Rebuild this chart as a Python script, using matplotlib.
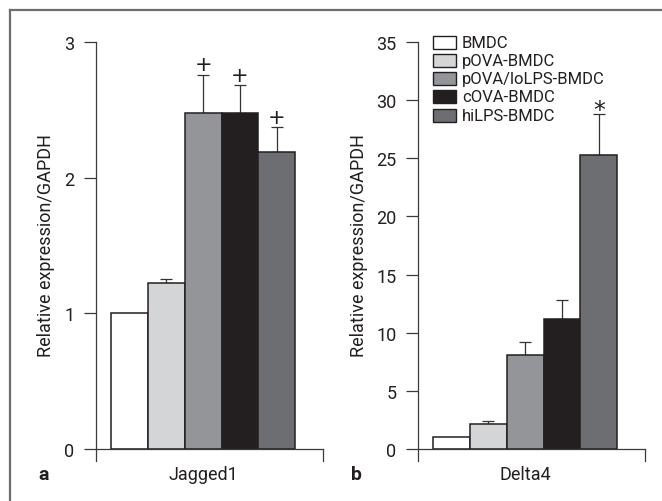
import numpy as np
import matplotlib
matplotlib.use('Agg')
import matplotlib.pyplot as plt
from matplotlib.patches import Rectangle
from matplotlib.lines import Line2D

plt.rcParams['font.family'] = ['Roboto', 'DejaVu Sans']

# data
groups = ['BMDC', 'pOVA-BMDC', 'pOVA/loLPS-BMDC', 'cOVA-BMDC', 'hiLPS-BMDC']
colors = ['#ffffff', '#d4d5d7', '#939598', '#231f20', '#6d6e71']

jagged_vals = [1.00, 1.22, 2.48, 2.48, 2.19]
jagged_err = [0.00, 0.03, 0.28, 0.20, 0.18]
jagged_marks = ['', '', '+', '+', '+']

delta_vals = [1.0, 2.18, 8.05, 11.18, 25.25]
delta_err = [0.0, 0.20, 1.15, 1.62, 3.55]
delta_marks = ['', '', '', '', '*']

W, H = 662, 502
fig = plt.figure(figsize=(W / 100, H / 100), dpi=100)

def px(x, y):
    # pixel (from top-left) -> figure fraction
    return x / W, 1 - y / H

edge = '#231f20'
axcol = '#3a3a3a'
txt = '#231f20'
fs = 13

def panel(left, right, vals, errs, marks, ymax, yticks, xlabel, letter, letter_x, ylab_x,
          mark_size, mark_off):
    top_px, zero_px, bot_px = 43, 450, 462
    ax = fig.add_axes([left / W, 1 - bot_px / H, (right - left) / W, (bot_px - top_px) / H])
    ylo = -(bot_px - zero_px) / (zero_px - top_px) * ymax
    xlo, xhi = -0.905, 5.25
    x = np.arange(len(vals))
    ax.bar(x, vals, width=1.0, color=colors, edgecolor=edge, linewidth=1.1, zorder=3)
    for xi, v, e, m in zip(x, vals, errs, marks):
        if e > 0:
            ax.errorbar(xi, v, yerr=[[0], [e]], fmt='none', ecolor='#333333',
                        elinewidth=0.9, capsize=4.2, capthick=0.9, zorder=2)
        if m:
            ax.annotate(m, (xi, v + e), xytext=(0, mark_off), textcoords='offset points',
                        ha='center', va='center', fontsize=mark_size, color=txt,
                        family='DejaVu Sans')
    ax.set_xlim(xlo, xhi)
    ax.set_ylim(ylo, ymax)
    ax.set_yticks(yticks)
    ax.set_xticks([])
    for s in ['top', 'right', 'bottom']:
        ax.spines[s].set_visible(False)
    ax.spines['left'].set_color(axcol)
    ax.spines['left'].set_linewidth(0.9)
    ax.tick_params(axis='y', length=8.5, width=0.9, color=axcol, pad=7, labelsize=fs,
                   labelcolor=txt)
    ax.plot([xlo, xhi], [0, 0], color=axcol, lw=0.9, clip_on=False, zorder=4)
    ax.plot([xhi, xhi], [ylo, 0], color=axcol, lw=0.9, clip_on=False, zorder=4)
    ax.patch.set_alpha(0)
    # category label under the bars
    xc = ax.transData.transform((2, 0))[0] / W
    fig.text(xc, 1 - 480 / H, xlabel, ha='center', va='baseline', fontsize=fs, color=txt)
    fig.text(*px(ylab_x, 246), 'Relative expression/GAPDH', rotation=90,
             ha='center', va='center', fontsize=fs, color=txt)
    fig.text(*px(letter_x, 480), letter, fontsize=fs + 1, fontweight='bold',
             ha='left', va='baseline', color=txt)
    return ax

ax_a = panel(96, 323, jagged_vals, jagged_err, jagged_marks, 3, [0, 1, 2, 3],
             'Jagged1', 'a', 38, 46, 15, 7.5)
ax_b = panel(418, 645, delta_vals, delta_err, delta_marks, 35, list(range(0, 36, 5)),
             'Delta4', 'b', 351, 359, 17, 2.8)

# legend drawn by hand in pixel positions
for i, (lab, col) in enumerate(zip(groups, colors)):
    yc = 43.3 + 18.2 * i
    x0, y0 = px(433, yc + 6.5)
    fig.add_artist(Rectangle((x0, y0), 23 / W, 13 / H, transform=fig.transFigure,
                             facecolor=col, edgecolor=edge, linewidth=1.0))
    fig.text(*px(462, yc), lab, ha='left', va='center', fontsize=12, color=txt)

# outer frame (top and left only)
fig.add_artist(Line2D([10 / W, 10 / W], [0, 1 - 11 / H], transform=fig.transFigure,
                      color='#6d6d6d', lw=1.6))
fig.add_artist(Line2D([10 / W, 1], [1 - 11 / H, 1 - 11 / H], transform=fig.transFigure,
                      color='#6d6d6d', lw=1.6))

fig.savefig('out.png', dpi=100)
